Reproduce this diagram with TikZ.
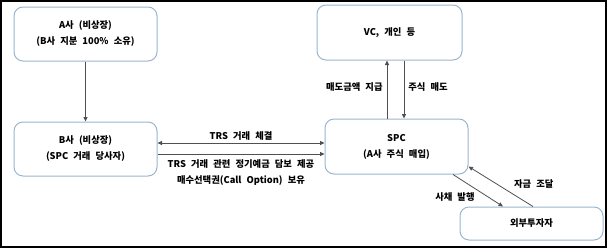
\documentclass[tikz,border=0pt]{standalone}
\usepackage{fontspec}
\setmainfont{Noto Sans CJK KR}[WordSpace=2.4]
\usepackage{xcolor}
\usetikzlibrary{arrows.meta, positioning}

\definecolor{boxline}{HTML}{9BB5D0}
\definecolor{arrline}{HTML}{505050}

\begin{document}
\begin{tikzpicture}[
  x=1pt, y=-1pt,
  node distance=60pt and 160pt,
  box/.style={rectangle, draw=boxline, line width=1pt, rounded corners=9pt,
              minimum width=143pt, minimum height=54pt, align=center,
              font=\fontsize{9.3}{16}\selectfont\bfseries},
  arr/.style={-{Triangle[length=4.5pt, width=4pt]}, line width=0.8pt, draw=arrline},
  lbl/.style={font=\fontsize{9.3}{16}\selectfont\bfseries, inner sep=1pt}
]
  \useasboundingbox (0,0) rectangle (610,250);
  \draw[line width=1.5pt] (1,1) rectangle (606,247);

  \node[box]                    (a) at (85.5,34)  {A사 (비상장)\\(B사 지분 100\% 소유)};
  \node[box, below=60pt of a]   (b)               {B사 (비상장)\\(SPC 거래 당사자)};
  \node[box, minimum width=145pt, minimum height=55pt] (vc) at (389.5,32.5) {VC, 개인 등};
  \node[box, minimum height=55pt, below=58pt of vc, xshift=7pt] (spc) {SPC\\(A사 주식 매입)};
  \node[box, minimum height=33pt] (ext) at (531.5,223.5) {외부투자자};

  \draw[arr] (a) -- (b);

  \draw[arr] ([xshift=-9.5pt]spc.north) -- ([xshift=-9.5pt]spc.north |- vc.south)
    node[lbl, left, pos=0.55, xshift=-3pt] {매도금액 지급};
  \draw[arr] ([xshift=14.5pt]vc.south) -- ([xshift=14.5pt]vc.south |- spc.north)
    node[lbl, right, pos=0.45, xshift=3pt] {주식 매도};

  \draw[arr, {Triangle[length=4.5pt, width=4pt]}-{Triangle[length=4.5pt, width=4pt]}]
    ([yshift=6pt]b.east) -- ([yshift=6pt]b.east -| spc.west)
    node[lbl, above, midway, yshift=1pt] {TRS 거래 체결};
  \draw[arr] ([yshift=-5pt]b.east) -- ([yshift=-5pt]b.east -| spc.west)
    node[lbl, below, midway, yshift=-4pt, align=center] {TRS 거래 관련 정기예금 담보 제공\\매수선택권(Call Option) 보유};

  \draw[arr] ([xshift=56.5pt]spc.south) -- ([xshift=-28.5pt]ext.north)
    node[lbl, midway, below left, xshift=-2pt, yshift=-1pt] {사채 발행};
  \draw[arr] ([xshift=1.5pt]ext.north) -- ([yshift=8pt]spc.south east)
    node[lbl, midway, above right, xshift=12pt, yshift=-3pt] {자금 조달};
\end{tikzpicture}
\end{document}
